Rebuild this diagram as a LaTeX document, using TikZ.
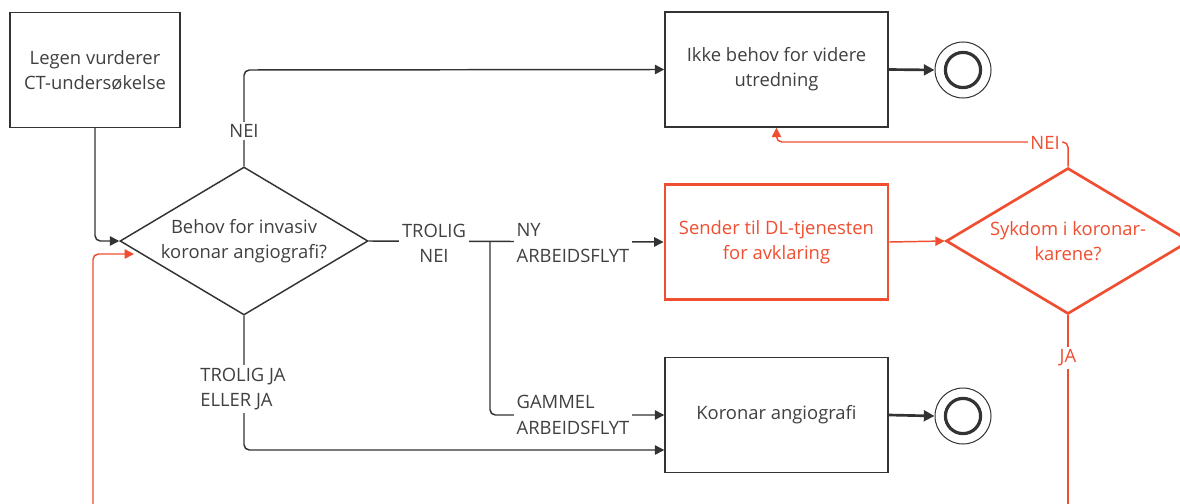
\documentclass[tikz,border=0pt]{standalone}
\usepackage{fontspec}
\setmainfont{Open Sans}
\usetikzlibrary{arrows.meta,shapes.geometric}
\definecolor{ink}{HTML}{333333}
\definecolor{txt}{HTML}{404040}
\definecolor{alert}{HTML}{F04E30}
\begin{document}
\begin{tikzpicture}[x=0.75pt,y=-0.75pt,
  font=\fontsize{13.8}{19}\selectfont,
  task/.style={draw=ink, line width=1.1pt, minimum width=167.25pt, minimum height=86.25pt,
    align=center, text=txt, inner sep=0pt},
  redtask/.style={task, draw=alert, text=alert, line width=2.2pt},
  gate/.style={diamond, draw=ink, line width=1.1pt, minimum width=186pt, minimum height=111pt,
    inner sep=0pt},
  redgate/.style={gate, draw=alert, line width=2pt, minimum width=183pt, minimum height=109.5pt},
  endev/.style={circle, draw=ink, line width=0.75pt, minimum size=42pt, inner sep=0pt},
  flow/.style={draw=ink, line width=1.1pt, rounded corners=4pt, -{Triangle[length=7pt,width=7pt]}},
  bold/.style={draw=ink, line width=2pt, -{Triangle[length=8pt,width=8pt]}},
  redflow/.style={draw=alert, line width=1.1pt, rounded corners=4pt, -{Triangle[length=7pt,width=7pt]}},
  redplain/.style={draw=alert, line width=1.1pt, rounded corners=4pt},
  tag/.style={fill=white, text=txt, inner sep=2pt, align=left},
  redtag/.style={tag, text=alert}]

\clip (0,0) rectangle (1180,503);
\fill[white] (0,0) rectangle (1180,503);

% boxes
\node[task, minimum width=127.5pt] (start) at (95,70) {Legen vurderer\\CT-undersøkelse};
\node[task] (none) at (776.5,69.5) {Ikke behov for videre\\utredning};
\node[redtask] (dl) at (776.5,242) {Sender til DL-tjenesten\\for avklaring};
\node[task] (angio) at (776.5,415) {Koronar angiografi};

% decisions
\node[gate, label={[text=txt,align=center]center:Behov for invasiv\\koronar angiografi?}] (need) at (244,241) {};
\node[redgate, label={[text=alert,align=center]center:Sykdom i koronar-\\karene?}] (sick) at (1068,241) {};

% end events
\node[endev] (endA) at (963,70) {};
\draw[ink, line width=2.4pt] (endA.center) circle (13.2pt);
\node[endev] (endB) at (963,416) {};
\draw[ink, line width=2.4pt] (endB.center) circle (13.2pt);

% free ends of the red loop lines
\coordinate (loopIn) at (93,510);
\coordinate (loopTip) at (134,254);
\coordinate (jaOut) at (1068,510);

% connectors
\draw[flow] (start.south) -- (95,241) -- (need.west);
\draw[flow] (need.north) -- (244,70) -- (none.west);
\node[tag] at (244,131) {NEI};
\draw[flow] (need.south) -- (244,450) -- (angio.west |- 0,450);
\node[tag] at (243,389) {TROLIG JA\\ELLER JA};
\draw[flow] (need.east) -- (dl.west);
\node[tag, align=center] at (434,243) {TROLIG\\NEI};
\node[tag] at (573,243) {NY\\ARBEIDSFLYT};
\draw[flow] (490,241) -- (490,415) -- (angio.west);
\node[tag] at (573,415) {GAMMEL\\ARBEIDSFLYT};
\draw[bold] (none.east) -- (endA.west);
\draw[bold] (angio.east) -- (endB.west);

% red connectors
\draw[redflow] (dl.east) -- (sick.west);
\draw[redflow] (sick.north) -- (1068,142) -- (776.5,142) -- (none.south);
\node[redtag] at (1045,143) {NEI};
\draw[redplain] (sick.south) -- (jaOut);
\node[redtag] at (1068,358) {JA};
\draw[redflow] (loopIn) -- (93,254) -- (loopTip);
\end{tikzpicture}
\end{document}
